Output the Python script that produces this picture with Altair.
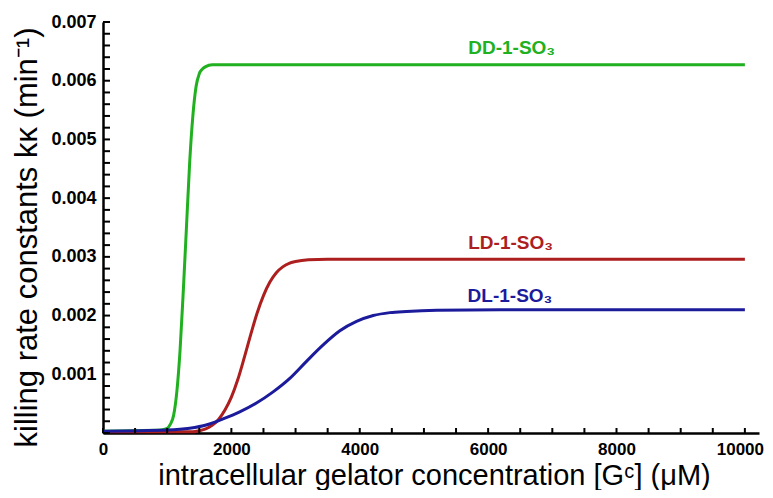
import altair as alt
import pandas as pd

# ---- data ----
series_names = ["DD-1-SO₃", "LD-1-SO₃", "DL-1-SO₃"]
series_colors = ["#20b020", "#ad1e1e", "#1b1b9c"]

dd_x = [0, 500, 900, 1000, 1050, 1100, 1150, 1200, 1250, 1300, 1350, 1400, 1450, 1500, 1550, 1600, 1700, 10000]
dd_y = [0.00003, 0.00004, 0.00005, 0.00008, 0.00015, 0.0003, 0.0007, 0.0014, 0.0024, 0.0035, 0.0046, 0.0054, 0.0059, 0.00612, 0.0062, 0.00624, 0.00627, 0.00627]

ld_x = [0, 1000, 1400, 1500, 1600, 1700, 1800, 1900, 2000, 2100, 2200, 2300, 2400, 2500, 2600, 2700, 2800, 2900, 3000, 3200, 3500, 10000]
ld_y = [0.00002, 0.00002, 0.00002, 0.00004, 0.00007, 0.00013, 0.00023, 0.00039, 0.00061, 0.00091, 0.00128, 0.00167, 0.00204, 0.00234, 0.00257, 0.00273, 0.00283, 0.00289, 0.00292, 0.00295, 0.00296, 0.00296]

dl_x = [0, 1000, 1350, 1620, 1870, 2130, 2390, 2650, 2910, 3170, 3430, 3690, 3950, 4210, 4470, 4730, 5200, 6200, 10000]
dl_y = [0.00003, 0.00005, 0.00008, 0.00014, 0.00024, 0.00036, 0.00051, 0.0007, 0.00093, 0.00122, 0.0015, 0.00174, 0.0019, 0.002, 0.00205, 0.00207, 0.00209, 0.0021, 0.0021]

label_x = [5690, 5690, 5680]
label_y = [0.00656, 0.00324, 0.00233]

x_label_values = [0, 2000, 4000, 6000, 8000, 10000]
y_label_values = [0.001, 0.002, 0.003, 0.004, 0.005, 0.006, 0.007]
x_tick_values = [i * 500 for i in range(21)]
y_tick_values = [round(i * 0.0002, 4) for i in range(36)]

x_title = "intracellular gelator concentration [Gᶜ] (μM)"
y_title = "killing rate constants kᴋ (min⁻¹)"

# ---- build tables ----
rows = []
for name, xs, ys in zip(series_names, [dd_x, ld_x, dl_x], [dd_y, ld_y, dl_y]):
    for i, (xv, yv) in enumerate(zip(xs, ys)):
        rows.append({"series": name, "conc": xv, "k": yv, "order": i})
df = pd.DataFrame(rows)
label_df = pd.DataFrame({"series": series_names, "conc": label_x, "k": label_y})
xtick_df = pd.DataFrame({"v": x_tick_values})
ytick_df = pd.DataFrame({"v": y_tick_values})

W, H = 656, 411
FONT = "Liberation Sans"
xscale = alt.Scale(domain=[0, 10220], nice=False, zero=False)
yscale = alt.Scale(domain=[0, 0.007], nice=False)
color = alt.Color("series:N", scale=alt.Scale(domain=series_names, range=series_colors), legend=None)

lines = alt.Chart(df).mark_line(strokeWidth=3, interpolate="monotone").encode(
    x=alt.X("conc:Q", scale=xscale, axis=alt.Axis(
        orient="bottom", values=x_label_values, format="d", title=x_title,
        ticks=False, tickSize=0, grid=False, domainColor="black", domainWidth=2.5,
        labelFont=FONT, labelFontSize=17, labelFontWeight="bold", labelColor="black",
        labelPadding=8, labelFlush=False, labelOverlap=False,
        labelOffset={"condition": {"test": "datum.value == 10000", "value": -5}, "value": 0},
        titleFont=FONT, titleFontSize=29, titleFontWeight="normal", titleColor="black",
        titleBaseline="alphabetic", titleX=331, titleY=51, titleAlign="center")),
    y=alt.Y("k:Q", scale=yscale, axis=alt.Axis(
        orient="left", values=y_label_values, format=".3f", title=y_title,
        ticks=False, tickSize=0, grid=False, domainColor="black", domainWidth=2.5,
        labelFont=FONT, labelFontSize=18, labelFontWeight="bold", labelColor="black",
        labelPadding=7, labelFlush=False, labelOverlap=False,
        titleFont=FONT, titleFontSize=31, titleFontWeight="normal", titleColor="black",
        titleAngle=-90, titleBaseline="alphabetic", titleAlign="center",
        titleX=-67, titleY=215)),
    color=color,
    order="order:Q",
)

# inward-pointing tick marks along both axes
xticks = alt.Chart(xtick_df).mark_rule(color="black", strokeWidth=2).encode(
    x=alt.X("v:Q", scale=xscale, axis=None),
    y=alt.value(H),
    y2=alt.value(H - 5),
)
yticks = alt.Chart(ytick_df).mark_rule(color="black", strokeWidth=2).encode(
    y=alt.Y("v:Q", scale=yscale, axis=None),
    x=alt.value(0),
    x2=alt.value(7),
)

text = alt.Chart(label_df).mark_text(
    align="left", baseline="middle", font=FONT, fontSize=19, fontWeight="bold"
).encode(
    x=alt.X("conc:Q", scale=xscale, axis=None),
    y=alt.Y("k:Q", scale=yscale, axis=None),
    text="series:N",
    color=color,
)

chart = alt.layer(lines, xticks, yticks, text).resolve_axis(
    x="independent", y="independent"
).properties(
    width=W, height=H,
    autosize=alt.AutoSizeParams(type="none"),
    padding={"left": 95, "top": 14, "right": 6, "bottom": 57},
    background="white",
).configure_view(stroke=None)

chart.save("out.html", embed_options={"renderer": "svg", "actions": False})
